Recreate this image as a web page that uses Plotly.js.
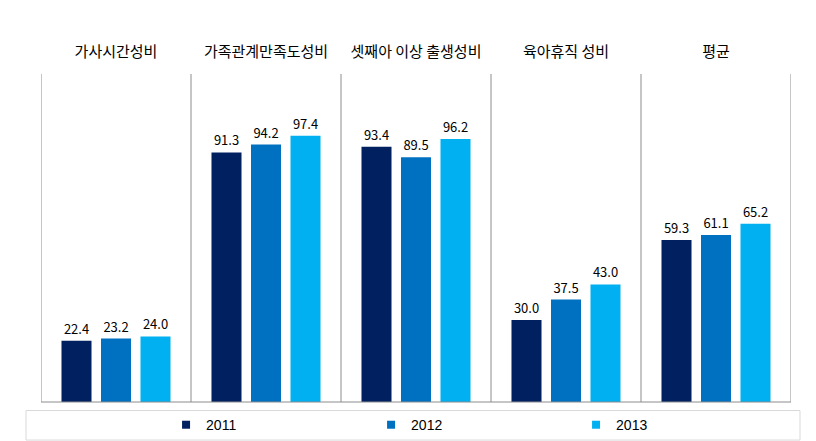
<!DOCTYPE html>
<html><head><meta charset="utf-8">
<script src="https://cdn.plot.ly/plotly-3.0.1.min.js"></script>
<style>html,body{margin:0;padding:0;background:#fff;}#chart{width:816px;height:441px;}</style>
</head><body><div id="chart"></div>
<script>
const categories = ['가사시간성비','가족관계만족도성비','셋째아 이상 출생성비','육아휴직 성비','평균'];
const years = ['2011','2012','2013'];
const v2011 = [22.4, 91.3, 93.4, 30.0, 59.3];
const v2012 = [23.2, 94.2, 89.5, 37.5, 61.1];
const v2013 = [24.0, 97.4, 96.2, 43.0, 65.2];
const colors = ['#002060','#0070C0','#00B0F0'];
const series = [v2011, v2012, v2013];

const font = '"Noto Sans CJK KR", "Noto Sans", sans-serif';
const traces = series.map((vals, i) => ({
  type: 'bar', x: categories, y: vals, name: years[i],
  marker: {color: colors[i]},
  texttemplate: '%{y:.1f}', textposition: 'outside', cliponaxis: false,
  textfont: {family: font, size: 13, color: '#000'},
  showlegend: false, hoverinfo: 'none'
}));
years.forEach((yr, i) => traces.push({
  type: 'scatter', mode: 'markers', x: [null], y: [null], name: yr,
  marker: {symbol: 'square', size: 8, color: colors[i]}, showlegend: true
}));

const shapes = [];
for (let i = 0; i <= categories.length; i++) {
  shapes.push({type: 'line', xref: 'x', yref: 'paper', x0: i - 0.5, x1: i - 0.5, y0: 0, y1: 1,
    line: {color: '#8c8c8c', width: 1}});
}
shapes.push({type: 'line', xref: 'paper', yref: 'paper', x0: 0, x1: 1, y0: 0, y1: 0,
  line: {color: '#8c8c8c', width: 1}});
shapes.push({type: 'rect', xref: 'paper', yref: 'paper', x0: -0.02, x1: 1.012, y0: -0.026, y1: -0.116,
  line: {color: '#d9d9d9', width: 1}});

Plotly.newPlot('chart', traces, {
  width: 816, height: 441,
  margin: {l: 41, r: 25, t: 74, b: 39, autoexpand: false},
  paper_bgcolor: '#fff', plot_bgcolor: '#fff',
  barmode: 'group', bargap: 0.21, bargroupgap: 0.24,
  xaxis: {side: 'top', type: 'category', range: [-0.5, categories.length - 0.5],
    showline: false, showgrid: false, zeroline: false,
    ticks: 'outside', ticklen: 10, tickcolor: 'rgba(0,0,0,0)',
    tickfont: {family: font, size: 15, color: '#000'}},
  yaxis: {range: [0, 120], visible: false, showgrid: false, zeroline: false},
  showlegend: true,
  legend: {orientation: 'h', xref: 'container', yref: 'container',
    x: 0.2035, xanchor: 'left', y: 0.036, yanchor: 'middle',
    entrywidth: 160, entrywidthmode: 'pixels', itemwidth: 30,
    font: {family: '"Liberation Sans Narrow", "Liberation Sans", sans-serif', size: 14, color: '#000'},
    bgcolor: 'rgba(0,0,0,0)'},
  shapes: shapes,
  font: {family: font}
}, {displayModeBar: false, staticPlot: true});
</script></body></html>
